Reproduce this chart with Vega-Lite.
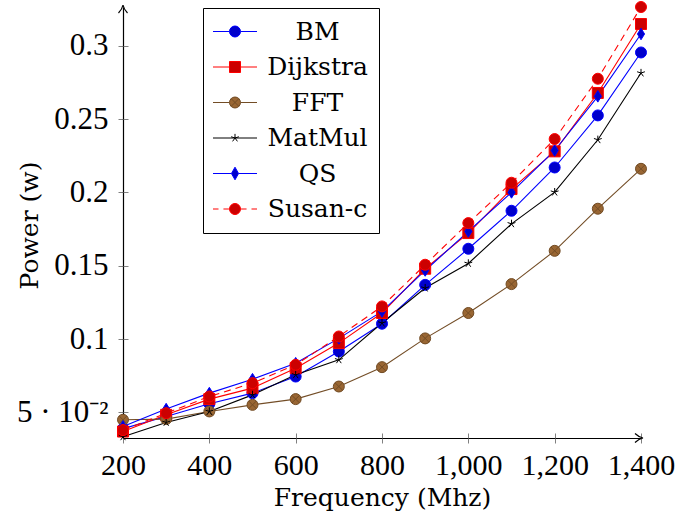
{
  "$schema": "https://vega.github.io/schema/vega-lite/v6.json",
  "width": 518,
  "height": 431,
  "autosize": {"type": "none"},
  "padding": {"left": 123, "top": 7, "right": 34, "bottom": 84},
  "background": "white",
  "config": {
    "view": {"stroke": null},
    "axis": {"grid": false}
  },
  "datasets": {
    "power": [
      {"f": 200, "p": 0.039, "s": "BM"},
      {"f": 300, "p": 0.0473, "s": "BM"},
      {"f": 400, "p": 0.0559, "s": "BM"},
      {"f": 500, "p": 0.0632, "s": "BM"},
      {"f": 600, "p": 0.0745, "s": "BM"},
      {"f": 700, "p": 0.0916, "s": "BM"},
      {"f": 800, "p": 0.1105, "s": "BM"},
      {"f": 900, "p": 0.137, "s": "BM"},
      {"f": 1000, "p": 0.1616, "s": "BM"},
      {"f": 1100, "p": 0.1875, "s": "BM"},
      {"f": 1200, "p": 0.217, "s": "BM"},
      {"f": 1300, "p": 0.2525, "s": "BM"},
      {"f": 1400, "p": 0.2954, "s": "BM"},
      {"f": 200, "p": 0.037, "s": "Dijkstra"},
      {"f": 300, "p": 0.0484, "s": "Dijkstra"},
      {"f": 400, "p": 0.0591, "s": "Dijkstra"},
      {"f": 500, "p": 0.0666, "s": "Dijkstra"},
      {"f": 600, "p": 0.0802, "s": "Dijkstra"},
      {"f": 700, "p": 0.0973, "s": "Dijkstra"},
      {"f": 800, "p": 0.1178, "s": "Dijkstra"},
      {"f": 900, "p": 0.148, "s": "Dijkstra"},
      {"f": 1000, "p": 0.1723, "s": "Dijkstra"},
      {"f": 1100, "p": 0.2023, "s": "Dijkstra"},
      {"f": 1200, "p": 0.228, "s": "Dijkstra"},
      {"f": 1300, "p": 0.2678, "s": "Dijkstra"},
      {"f": 1400, "p": 0.3148, "s": "Dijkstra"},
      {"f": 200, "p": 0.045, "s": "FFT"},
      {"f": 300, "p": 0.0455, "s": "FFT"},
      {"f": 400, "p": 0.0507, "s": "FFT"},
      {"f": 500, "p": 0.0552, "s": "FFT"},
      {"f": 600, "p": 0.0591, "s": "FFT"},
      {"f": 700, "p": 0.0677, "s": "FFT"},
      {"f": 800, "p": 0.0809, "s": "FFT"},
      {"f": 900, "p": 0.1005, "s": "FFT"},
      {"f": 1000, "p": 0.1178, "s": "FFT"},
      {"f": 1100, "p": 0.1375, "s": "FFT"},
      {"f": 1200, "p": 0.1602, "s": "FFT"},
      {"f": 1300, "p": 0.1889, "s": "FFT"},
      {"f": 1400, "p": 0.2161, "s": "FFT"},
      {"f": 200, "p": 0.0334, "s": "MatMul"},
      {"f": 300, "p": 0.0432, "s": "MatMul"},
      {"f": 400, "p": 0.0507, "s": "MatMul"},
      {"f": 500, "p": 0.062, "s": "MatMul"},
      {"f": 600, "p": 0.0757, "s": "MatMul"},
      {"f": 700, "p": 0.0859, "s": "MatMul"},
      {"f": 800, "p": 0.111, "s": "MatMul"},
      {"f": 900, "p": 0.1348, "s": "MatMul"},
      {"f": 1000, "p": 0.1516, "s": "MatMul"},
      {"f": 1100, "p": 0.1786, "s": "MatMul"},
      {"f": 1200, "p": 0.2002, "s": "MatMul"},
      {"f": 1300, "p": 0.2359, "s": "MatMul"},
      {"f": 1400, "p": 0.2814, "s": "MatMul"},
      {"f": 200, "p": 0.0405, "s": "QS"},
      {"f": 300, "p": 0.0523, "s": "QS"},
      {"f": 400, "p": 0.0632, "s": "QS"},
      {"f": 500, "p": 0.0727, "s": "QS"},
      {"f": 600, "p": 0.0836, "s": "QS"},
      {"f": 700, "p": 0.1005, "s": "QS"},
      {"f": 800, "p": 0.1189, "s": "QS"},
      {"f": 900, "p": 0.1468, "s": "QS"},
      {"f": 1000, "p": 0.1734, "s": "QS"},
      {"f": 1100, "p": 0.2, "s": "QS"},
      {"f": 1200, "p": 0.2286, "s": "QS"},
      {"f": 1300, "p": 0.2655, "s": "QS"},
      {"f": 1400, "p": 0.308, "s": "QS"},
      {"f": 200, "p": 0.038, "s": "Susan-c"},
      {"f": 300, "p": 0.0495, "s": "Susan-c"},
      {"f": 400, "p": 0.0609, "s": "Susan-c"},
      {"f": 500, "p": 0.07, "s": "Susan-c"},
      {"f": 600, "p": 0.0825, "s": "Susan-c"},
      {"f": 700, "p": 0.1018, "s": "Susan-c"},
      {"f": 800, "p": 0.1223, "s": "Susan-c"},
      {"f": 900, "p": 0.1507, "s": "Susan-c"},
      {"f": 1000, "p": 0.1791, "s": "Susan-c"},
      {"f": 1100, "p": 0.2066, "s": "Susan-c"},
      {"f": 1200, "p": 0.2364, "s": "Susan-c"},
      {"f": 1300, "p": 0.2775, "s": "Susan-c"},
      {"f": 1400, "p": 0.3264, "s": "Susan-c"}
    ]
  },
  "layer": [
    {
      "data": {"name": "power"},
      "transform": [{"filter": "datum.s !== 'Susan-c'"}],
      "mark": {"type": "line", "strokeWidth": 1.1},
      "encoding": {
        "x": {
          "field": "f", "type": "quantitative",
          "scale": {"domain": [200, 1400], "nice": false, "zero": false},
          "axis": {
            "orient": "bottom",
            "values": [200, 400, 600, 800, 1000, 1200, 1400],
            "labelExpr": "format(datum.value, ',')",
            "labelFont": "Liberation Serif", "labelFontSize": 30, "labelColor": "black",
            "labelPadding": 7, "labelFlush": false,
            "tickSize": 5, "tickColor": "#808080", "tickWidth": 1,
            "domainColor": "black", "domainWidth": 1.2,
            "title": "Frequency (Mhz)",
            "titleFont": "DejaVu Serif", "titleFontSize": 25, "titleFontWeight": "normal",
            "titleColor": "black", "titlePadding": 5
          }
        },
        "y": {
          "field": "p", "type": "quantitative",
          "scale": {"domain": [0.0326, 0.3264], "nice": false, "zero": false},
          "axis": {
            "orient": "left",
            "values": [0.05, 0.1, 0.15, 0.2, 0.25, 0.3],
            "labelExpr": "datum.value < 0.07 ? '5 · 10⁻²' : format(datum.value, '.2~f')",
            "labelFont": "Liberation Serif", "labelFontSize": 31, "labelColor": "black",
            "labelPadding": 10,
            "tickSize": 5, "tickColor": "#808080", "tickWidth": 1,
            "domainColor": "black", "domainWidth": 1.2,
            "title": "Power (w)",
            "titleFont": "DejaVu Serif", "titleFontSize": 25, "titleFontWeight": "normal",
            "titleColor": "black", "titleAngle": -90, "titleBaseline": "middle",
            "titleX": -94, "titleY": 218
          }
        },
        "detail": {"field": "s", "type": "nominal"},
        "stroke": {
          "field": "s", "type": "nominal", "legend": null,
          "scale": {
            "domain": ["BM", "Dijkstra", "FFT", "MatMul", "QS"],
            "range": ["#0000ff", "#ff0000", "#734d26", "#000000", "#0000ff"]
          }
        }
      }
    },
    {
      "data": {"name": "power"},
      "transform": [{"filter": "datum.s === 'Susan-c'"}],
      "mark": {"type": "line", "strokeWidth": 1.1, "stroke": "#ff0000", "strokeDash": [7, 5]},
      "encoding": {
        "x": {"field": "f", "type": "quantitative", "axis": null},
        "y": {"field": "p", "type": "quantitative", "axis": null}
      }
    },
    {
      "data": {"name": "power"},
      "mark": {"type": "point", "filled": true, "opacity": 1, "size": 121, "strokeWidth": 1},
      "encoding": {
        "x": {
          "field": "f", "type": "quantitative",
          "axis": {
            "orient": "bottom", "values": [200, 400, 600, 800, 1000, 1200, 1400],
            "domain": false, "labels": false, "title": null,
            "tickSize": -5, "tickColor": "#808080", "tickWidth": 1
          }
        },
        "y": {
          "field": "p", "type": "quantitative",
          "axis": {
            "orient": "left", "values": [0.05, 0.1, 0.15, 0.2, 0.25, 0.3],
            "domain": false, "labels": false, "title": null,
            "tickSize": -5, "tickColor": "#808080", "tickWidth": 1
          }
        },
        "fill": {
          "field": "s", "type": "nominal", "legend": null,
          "scale": {
            "domain": ["BM", "Dijkstra", "FFT", "MatMul", "QS", "Susan-c"],
            "range": ["#0000cc", "#cc0000", "#996633", "#000000", "#0000cc", "#cc0000"]
          }
        },
        "stroke": {
          "field": "s", "type": "nominal", "legend": null,
          "scale": {
            "domain": ["BM", "Dijkstra", "FFT", "MatMul", "QS", "Susan-c"],
            "range": ["#0000ff", "#ff0000", "#734d26", "#000000", "#0000ff", "#ff0000"]
          }
        },
        "shape": {
          "field": "s", "type": "nominal", "legend": null,
          "scale": {
            "domain": ["BM", "Dijkstra", "FFT", "MatMul", "QS", "Susan-c"],
            "range": [
              "circle",
              "M-1,-1H1V1H-1Z",
              "M-1,0A1,1 0 1,0 1,0A1,1 0 1,0 -1,0ZM-0.7,-0.7L0.7,0.7M-0.7,0.7L0.7,-0.7",
              "M0,0V-0.75M0,0L0.71,-0.23M0,0L0.44,0.61M0,0L-0.44,0.61M0,0L-0.71,-0.23",
              "M0,-1.05L0.65,0L0,1.05L-0.65,0Z",
              "circle"
            ]
          }
        }
      }
    },
    {
      "data": {"name": "power"},
      "transform": [{"filter": "datum.f < 0"}],
      "mark": {"type": "point", "filled": true, "opacity": 1, "strokeWidth": 1},
      "encoding": {
        "x": {"field": "f", "type": "quantitative", "axis": null},
        "y": {"field": "p", "type": "quantitative", "axis": null},
        "fill": {
          "field": "s", "type": "nominal",
          "scale": {
            "domain": ["BM", "Dijkstra", "FFT", "MatMul", "QS", "Susan-c"],
            "range": ["#0000cc", "#cc0000", "#996633", "#000000", "#0000cc", "#cc0000"]
          },
          "legend": {
            "orient": "none", "legendX": 80, "legendY": 1, "title": null,
            "padding": 11, "strokeColor": "black", "fillColor": "white",
            "labelFont": "DejaVu Serif", "labelFontSize": 25, "labelColor": "black",
            "labelAlign": "center", "labelOffset": 70, "symbolOffset": 8.5,
            "rowPadding": 9.5, "symbolSize": 121, "symbolStrokeWidth": 1, "symbolOpacity": 1
          }
        },
        "stroke": {
          "field": "s", "type": "nominal",
          "scale": {
            "domain": ["BM", "Dijkstra", "FFT", "MatMul", "QS", "Susan-c"],
            "range": ["#0000ff", "#ff0000", "#734d26", "#000000", "#0000ff", "#ff0000"]
          }
        },
        "shape": {
          "field": "s", "type": "nominal",
          "scale": {
            "domain": ["BM", "Dijkstra", "FFT", "MatMul", "QS", "Susan-c"],
            "range": [
              "M-4,0H-1M1,0H4M-1,0A1,1 0 1,0 1,0A1,1 0 1,0 -1,0Z",
              "M-4,0H-1M1,0H4M-1,-1H1V1H-1Z",
              "M-4,0H-1M1,0H4M-1,0A1,1 0 1,0 1,0A1,1 0 1,0 -1,0ZM-0.7,-0.7L0.7,0.7M-0.7,0.7L0.7,-0.7",
              "M-4,0H4M0,0V-0.75M0,0L0.71,-0.23M0,0L0.44,0.61M0,0L-0.44,0.61M0,0L-0.71,-0.23",
              "M-4,0H-0.65M0.65,0H4M0,-1.15L0.65,0L0,1.15L-0.65,0Z",
              "M-4,0H-3M-2.1,0H-1.1M1.1,0H2.1M3,0H4M-1,0A1,1 0 1,0 1,0A1,1 0 1,0 -1,0Z"
            ]
          }
        }
      }
    },
    {
      "data": {"values": [{"f": 1400, "p": 0.0326}]},
      "mark": {"type": "point", "filled": false, "stroke": "black", "strokeWidth": 1.2, "size": 100, "opacity": 1,
               "shape": "M-1.2,-0.9Q-0.4,-0.15 0.4,0Q-0.4,0.15 -1.2,0.9"},
      "encoding": {
        "x": {"field": "f", "type": "quantitative", "axis": null},
        "y": {"field": "p", "type": "quantitative", "axis": null}
      }
    },
    {
      "data": {"values": [{"f": 200, "p": 0.3264}]},
      "mark": {"type": "point", "filled": false, "stroke": "black", "strokeWidth": 1.2, "size": 100, "opacity": 1,
               "shape": "M-0.9,1.2Q-0.15,0.4 0,-0.4Q0.15,0.4 0.9,1.2"},
      "encoding": {
        "x": {"field": "f", "type": "quantitative", "axis": null},
        "y": {"field": "p", "type": "quantitative", "axis": null}
      }
    }
  ],
  "resolve": {
    "scale": {"shape": "independent", "fill": "independent", "stroke": "independent"},
    "axis": {"x": "independent", "y": "independent"}
  }
}
